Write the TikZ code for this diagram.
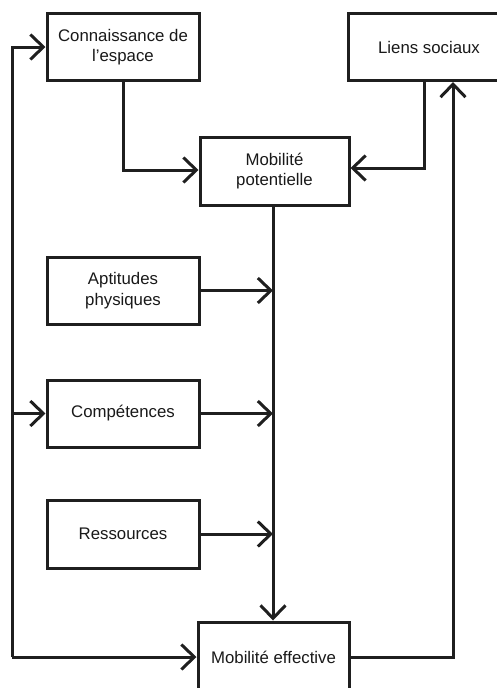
\documentclass[tikz,border=0pt]{standalone}
\usepackage{fontspec}
\setmainfont{Liberation Sans}
\usetikzlibrary{arrows.meta}
\begin{document}
\begin{tikzpicture}[x=1pt,y=-1pt,
  box/.style={draw=black!88, line width=3pt, fill=white, align=center, inner sep=0pt,
    font=\fontsize{16.8}{20.5}\selectfont, text=black!90},
  arr/.style={draw=black!88, line width=3pt, line join=miter,
    -{Straight Barb[length=13pt,width=25pt,line width=3pt]}},
  ln/.style={draw=black!88, line width=3pt, line join=miter}]
\useasboundingbox (0,0) rectangle (497,688);
\clip (0,0) rectangle (497,688);
\node[box, minimum width=152, minimum height=67] (conn) at (123,47) {Connaissance de\\l’espace};
\node[box, minimum width=162, minimum height=67] (liens) at (429,47) {Liens sociaux};
\node[box, minimum width=149, minimum height=68] (mp) at (274.5,171) {Mobilité\\potentielle};
\node[box, minimum width=152, minimum height=67] (apt) at (123,290.5) {Aptitudes\\physiques};
\node[box, minimum width=152, minimum height=67] (comp) at (123,413.5) {Compétences};
\node[box, minimum width=152, minimum height=68] (res) at (123,534) {Ressources};
\node[box, minimum width=151, minimum height=70] (me) at (273.5,657) {Mobilité effective};
\coordinate (L) at (12,0);
\coordinate (V) at (273,0);
\coordinate (R) at (453,0);
% from Connaissance to MP
\draw[arr] (conn.south) -- (conn.south |- 0,170) -- (mp.west |- 0,170);
% from Liens to MP
\draw[arr] (424,0 |- liens.south) -- (424,168) -- (mp.east |- 0,168);
% MP to ME
\draw[arr] (V |- mp.south) -- (V |- me.north);
% inputs to vertical line
\draw[arr] (apt.east) -- (V |- apt.east);
\draw[arr] (comp.east) -- (V |- comp.east);
\draw[arr] (res.east) -- (V |- res.east);
% ME to Liens
\draw[arr] (me.east) -- (R |- me.east) -- (R |- liens.south);
% left loop
\draw[arr] (L |- me.west) -- (L |- conn.west) -- (conn.west);
\draw[arr] (L |- me.west) -- (me.west);
\draw[arr] (L |- comp.west) -- (comp.west);
\end{tikzpicture}
\end{document}
